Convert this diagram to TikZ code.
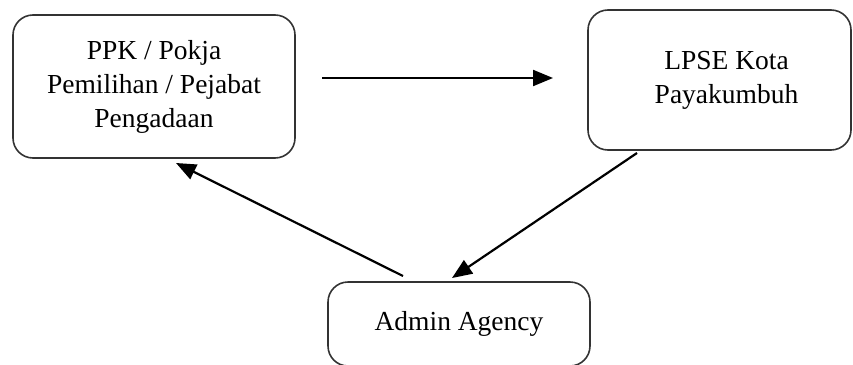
\documentclass[tikz,border=0pt]{standalone}
\usepackage{fontspec}
\setmainfont{Liberation Serif}
\usetikzlibrary{arrows.meta}
\begin{document}
\begin{tikzpicture}[x=1pt,y=-1pt,
  box/.style={draw=black!80, line width=1.6pt, rounded corners=20pt, align=center,
    inner sep=0pt, font=\fontsize{27.5}{34}\selectfont},
  conn/.style={draw=black, line width=2.2pt, -{Triangle[length=20pt,width=16pt]}}]
\useasboundingbox (0,0) rectangle (853,364);
\node[box, minimum width=282pt, minimum height=143pt] (ppk) at (154,86.5) {PPK / Pokja\\Pemilihan / Pejabat\\Pengadaan};
\node[box, minimum width=263pt, minimum height=140pt] (lpse) at (719.5,80) {\hspace*{14pt}LPSE Kota\\\hspace*{14pt}Payakumbuh};
\node[box, minimum width=262pt, minimum height=84pt] (admin) at (459,324) {\raisebox{5pt}{Admin Agency}};
\coordinate (a1s) at (322,78);
\coordinate (a1e) at (553,78);
\coordinate (a2s) at (403,276);
\coordinate (a2e) at (176,163);
\coordinate (a3s) at (637,153);
\coordinate (a3e) at (452,278);
\draw[conn] (a1s) -- (a1e);
\draw[conn] (a2s) -- (a2e);
\draw[conn] (a3s) -- (a3e);
\end{tikzpicture}
\end{document}
